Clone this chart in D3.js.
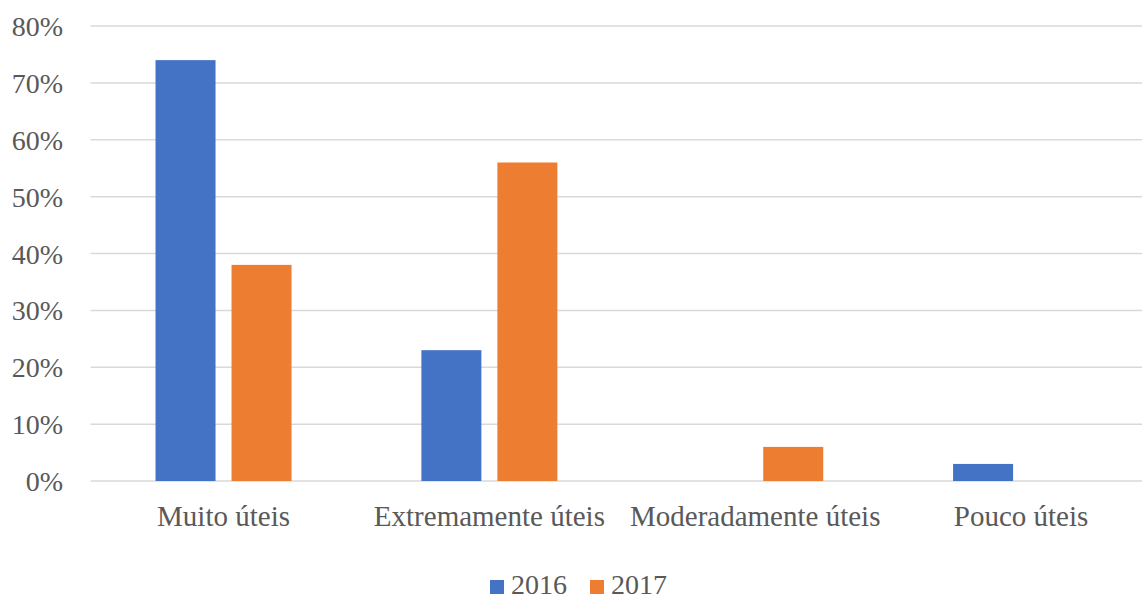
<!DOCTYPE html>
<html><head><meta charset="utf-8">
<script src="https://cdn.jsdelivr.net/npm/d3@7"></script>
<style>body{margin:0;background:#fff;overflow:hidden}</style>
</head><body>
<svg id="c" width="1142" height="600"></svg>
<script>
const categories = ["Muito úteis", "Extremamente úteis", "Moderadamente úteis", "Pouco úteis"];
const seriesNames = ["2016", "2017"];
const values2016 = [0.74, 0.23, 0, 0.03];
const values2017 = [0.38, 0.56, 0.06, 0];
const yTicks = [0, 0.1, 0.2, 0.3, 0.4, 0.5, 0.6, 0.7, 0.8];
const colors = ["#4472C4", "#ED7D31"];

const svg = d3.select("#c");
const font = "'Liberation Serif','Times New Roman',serif";
const textColor = "#595959";

const x = d3.scaleBand().domain(categories).range([90.6, 1154]);
const y = d3.scaleLinear().domain([0, 0.8]).range([481, 26]);
const barW = 60, gap = 16;
const x1 = d3.scaleOrdinal().domain(seriesNames).range([-(barW + gap / 2), gap / 2]);

// gridlines
svg.append("g").selectAll("line").data(yTicks).join("line")
  .attr("x1", 90.6).attr("x2", 1154)
  .attr("y1", d => y(d)).attr("y2", d => y(d))
  .attr("stroke", "#D9D9D9").attr("stroke-width", 1.5);

// y axis labels
const yAxis = d3.axisLeft(y).tickValues(yTicks).tickFormat(d3.format(".0%")).tickSize(0).tickPadding(0);
const gy = svg.append("g").attr("transform", "translate(63,0)").call(yAxis);
gy.select(".domain").remove();
gy.selectAll("text").attr("font-family", font).attr("font-size", 28).attr("fill", textColor).attr("dy", "0.34em");

// bars
const series = [values2016, values2017];
seriesNames.forEach((s, si) => {
  svg.append("g").selectAll("rect").data(categories).join("rect")
    .attr("x", c => x(c) + x.bandwidth() / 2 + x1(s))
    .attr("width", barW)
    .attr("y", (c, i) => y(series[si][i]))
    .attr("height", (c, i) => y(0) - y(series[si][i]))
    .attr("fill", colors[si]);
});

// x axis labels
const xAxis = d3.axisBottom(x).tickSize(0).tickPadding(0);
const gx = svg.append("g").attr("transform", "translate(0,500)").call(xAxis);
gx.select(".domain").remove();
gx.selectAll("text").attr("font-family", font).attr("font-size", 29).attr("fill", textColor).attr("dy", "0.88em");

// legend
const leg = svg.append("g");
const legX = [490, 590];
seriesNames.forEach((s, i) => {
  leg.append("rect").attr("x", legX[i]).attr("y", 580).attr("width", 14).attr("height", 14).attr("fill", colors[i]);
  leg.append("text").attr("x", legX[i] + 21).attr("y", 594).text(s)
    .attr("font-family", font).attr("font-size", 28).attr("fill", textColor);
});
</script>
</body></html>
